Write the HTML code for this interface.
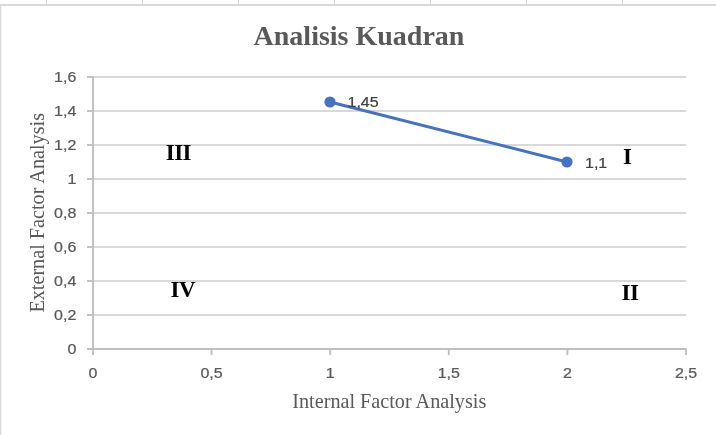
<!DOCTYPE html>
<html lang="id">
<head>
<meta charset="utf-8">
<title>Analisis Kuadran</title>
<style>
html,body{margin:0;padding:0;background:#fff;}
body{width:716px;height:435px;overflow:hidden;position:relative;}
svg{display:block;position:absolute;left:0;top:0;}
.serif{font-family:"Liberation Serif","Times New Roman",serif;}
.sans{font-family:"Liberation Sans",Arial,sans-serif;}
</style>
</head>
<body>
<svg width="716" height="435" viewBox="0 0 716 435">
  <rect x="0" y="0" width="716" height="435" fill="#ffffff"/>
  <!-- sheet gridline stubs -->
  <g fill="#d4d4d4">
    <rect x="46" y="0" width="1" height="4"/>
    <rect x="142" y="0" width="1" height="4"/>
    <rect x="238" y="0" width="1" height="4"/>
    <rect x="334" y="0" width="1" height="4"/>
    <rect x="430" y="0" width="1" height="4"/>
    <rect x="526" y="0" width="1" height="4"/>
    <rect x="622" y="0" width="1" height="4"/>
  </g>
  <!-- chart frame -->
  <rect x="0" y="4" width="716" height="2" fill="#d9d9d9"/>
  <rect x="0" y="4" width="1.3" height="431" fill="#d9d9d9"/>

  <!-- horizontal gridlines -->
  <g stroke="#d9d9d9" stroke-width="1.9" fill="none">
    <line x1="93" y1="77" x2="686" y2="77"/>
    <line x1="93" y1="111" x2="686" y2="111"/>
    <line x1="93" y1="145" x2="686" y2="145"/>
    <line x1="93" y1="179" x2="686" y2="179"/>
    <line x1="93" y1="213" x2="686" y2="213"/>
    <line x1="93" y1="247" x2="686" y2="247"/>
    <line x1="93" y1="281" x2="686" y2="281"/>
    <line x1="93" y1="315" x2="686" y2="315"/>
  </g>
  <!-- axes -->
  <g stroke="#bfbfbf" stroke-width="1.9" fill="none">
    <line x1="93" y1="76.25" x2="93" y2="355"/>
    <line x1="87" y1="349" x2="686.75" y2="349"/>
    <!-- y ticks -->
    <line x1="87" y1="77" x2="93" y2="77"/>
    <line x1="87" y1="111" x2="93" y2="111"/>
    <line x1="87" y1="145" x2="93" y2="145"/>
    <line x1="87" y1="179" x2="93" y2="179"/>
    <line x1="87" y1="213" x2="93" y2="213"/>
    <line x1="87" y1="247" x2="93" y2="247"/>
    <line x1="87" y1="281" x2="93" y2="281"/>
    <line x1="87" y1="315" x2="93" y2="315"/>
    <!-- x ticks -->
    <line x1="211.6" y1="349" x2="211.6" y2="355"/>
    <line x1="330.2" y1="349" x2="330.2" y2="355"/>
    <line x1="448.8" y1="349" x2="448.8" y2="355"/>
    <line x1="567.4" y1="349" x2="567.4" y2="355"/>
    <line x1="686" y1="349" x2="686" y2="355"/>
  </g>

  <!-- series -->
  <line x1="330" y1="102" x2="567" y2="162" stroke="#4472c4" stroke-width="3" stroke-linecap="round"/>
  <circle cx="330" cy="102" r="5.6" fill="#4472c4"/>
  <circle cx="567" cy="162" r="5.6" fill="#4472c4"/>

  <!-- title -->
  <text class="serif" x="359" y="45" font-size="28" font-weight="bold" fill="#595959" text-anchor="middle">Analisis Kuadran</text>

  <!-- axis titles -->
  <text class="serif" x="389.3" y="407.6" font-size="20.2" fill="#595959" text-anchor="middle">Internal Factor Analysis</text>
  <text class="serif" transform="translate(43.6 212.8) rotate(-90)" font-size="20.2" fill="#595959" text-anchor="middle">External Factor Analysis</text>

  <!-- y tick labels -->
  <g class="sans" font-size="16" fill="#595959" stroke="#595959" stroke-width="0.25" text-anchor="end">
    <text transform="translate(76.3 81.9) scale(1 .93)">1,6</text>
    <text transform="translate(76.3 115.9) scale(1 .93)">1,4</text>
    <text transform="translate(76.3 149.9) scale(1 .93)">1,2</text>
    <text transform="translate(76.3 183.9) scale(1 .93)">1</text>
    <text transform="translate(76.3 217.9) scale(1 .93)">0,8</text>
    <text transform="translate(76.3 251.9) scale(1 .93)">0,6</text>
    <text transform="translate(76.3 285.9) scale(1 .93)">0,4</text>
    <text transform="translate(76.3 319.9) scale(1 .93)">0,2</text>
    <text transform="translate(76.3 353.9) scale(1 .93)">0</text>
  </g>
  <!-- x tick labels -->
  <g class="sans" font-size="16" fill="#595959" stroke="#595959" stroke-width="0.25" text-anchor="middle">
    <text transform="translate(93 377.9) scale(1 .93)">0</text>
    <text transform="translate(211.6 377.9) scale(1 .93)">0,5</text>
    <text transform="translate(330.2 377.9) scale(1 .93)">1</text>
    <text transform="translate(448.8 377.9) scale(1 .93)">1,5</text>
    <text transform="translate(567.4 377.9) scale(1 .93)">2</text>
    <text transform="translate(686 377.9) scale(1 .93)">2,5</text>
  </g>
  <!-- data labels -->
  <g class="sans" font-size="16" fill="#404040" stroke="#404040" stroke-width="0.25">
    <text transform="translate(347.5 107.3) scale(1 .93)">1,45</text>
    <text transform="translate(585 167.6) scale(1 .93)">1,1</text>
  </g>
  <!-- quadrant labels -->
  <g class="serif" font-size="23" font-weight="bold" fill="#000000" letter-spacing="-0.5">
    <text x="165.7" y="160">III</text>
    <text x="170.6" y="297">IV</text>
    <text x="623.1" y="164">I</text>
    <text x="621.5" y="300">II</text>
  </g>
</svg>
</body>
</html>
